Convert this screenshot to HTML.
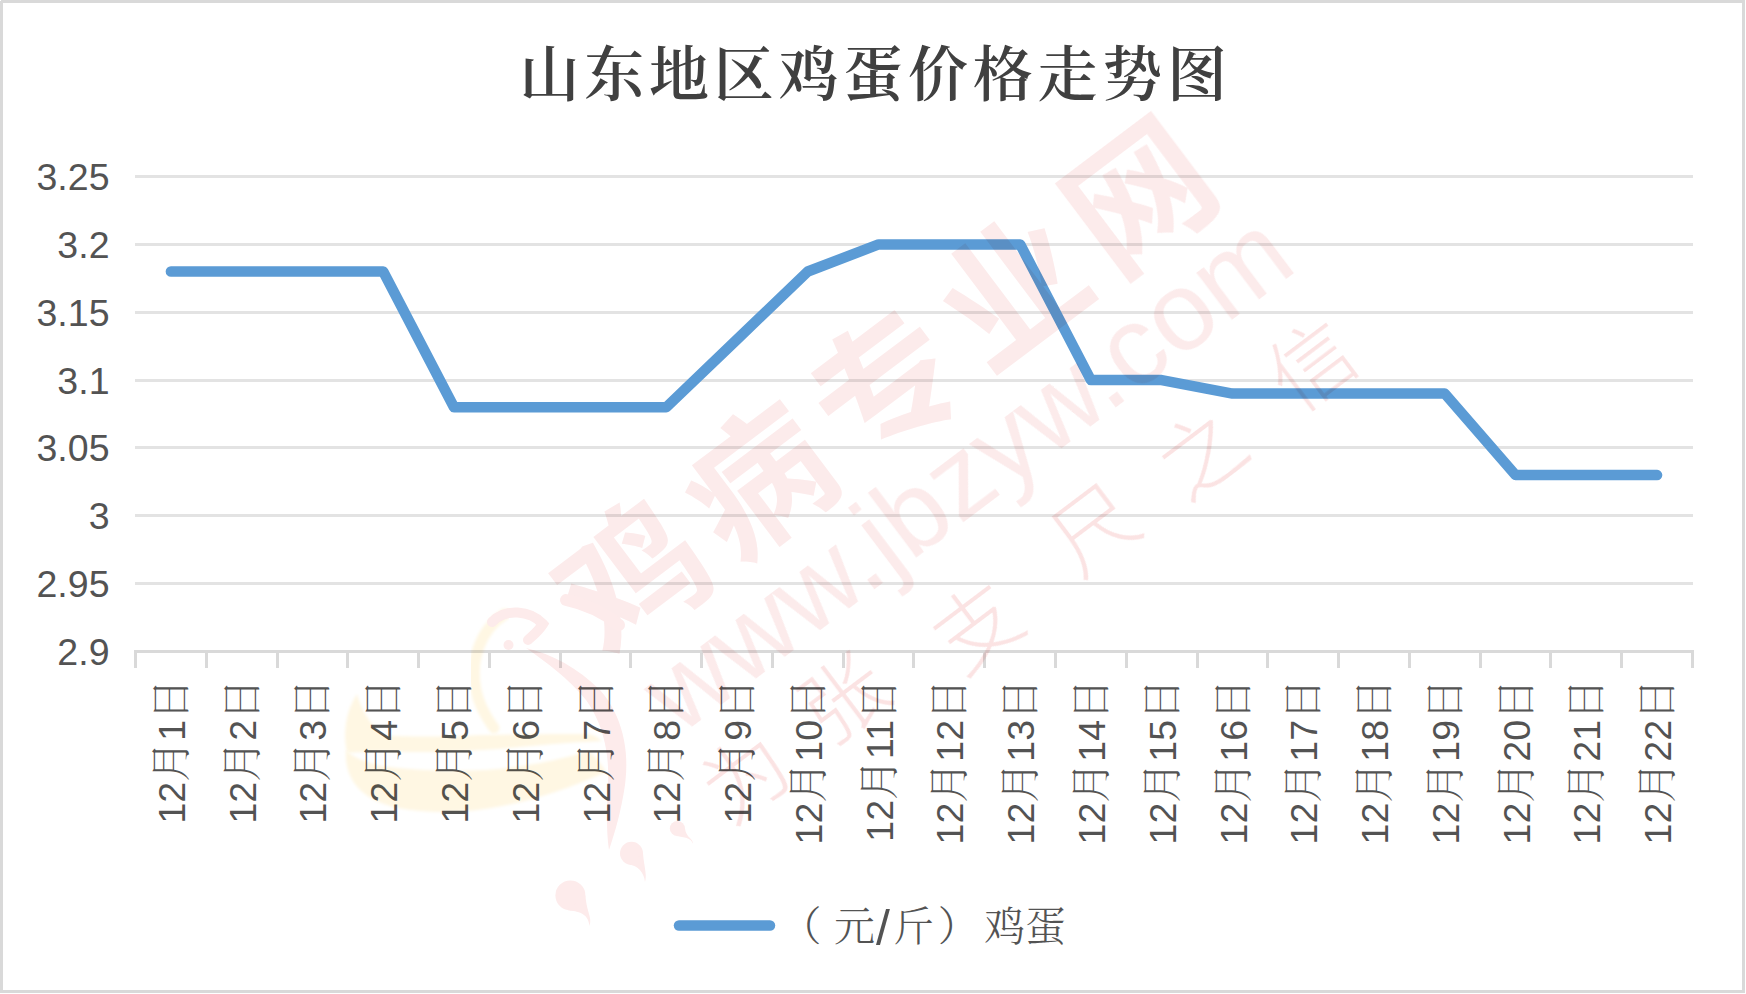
<!DOCTYPE html>
<html lang="zh-CN"><head><meta charset="utf-8"><title>山东地区鸡蛋价格走势图</title>
<style>
html,body{margin:0;padding:0;background:#fff;}
body{width:1746px;height:994px;overflow:hidden;position:relative;}
svg{position:absolute;left:0;top:0;display:block;}
.num{font-family:'Liberation Sans',sans-serif;font-size:37.5px;fill:#535353;}
.cjk{font-family:'Noto Serif CJK SC','Noto Serif CJK JP',serif;font-weight:300;font-size:41px;}
.wm{mix-blend-mode:multiply;}
</style></head><body>
<svg width="1746" height="994" viewBox="0 0 1746 994">
<rect x="1.5" y="1.5" width="1742" height="990" fill="#fff" stroke="#d9d9d9" stroke-width="3"/>
<rect x="0" y="0" width="1" height="1" fill="#fff"/>
<rect x="135" y="175" width="1558" height="3" fill="#e3e3e3"/>
<rect x="135" y="243" width="1558" height="3" fill="#e3e3e3"/>
<rect x="135" y="311" width="1558" height="3" fill="#e3e3e3"/>
<rect x="135" y="379" width="1558" height="3" fill="#e3e3e3"/>
<rect x="135" y="446" width="1558" height="3" fill="#e3e3e3"/>
<rect x="135" y="514" width="1558" height="3" fill="#e3e3e3"/>
<rect x="135" y="582" width="1558" height="3" fill="#e3e3e3"/>
<rect x="134" y="650" width="1560" height="3" fill="#d9d9d9"/>
<rect x="134" y="650" width="3" height="18" fill="#d9d9d9"/>
<rect x="205" y="650" width="3" height="18" fill="#d9d9d9"/>
<rect x="276" y="650" width="3" height="18" fill="#d9d9d9"/>
<rect x="346" y="650" width="3" height="18" fill="#d9d9d9"/>
<rect x="417" y="650" width="3" height="18" fill="#d9d9d9"/>
<rect x="488" y="650" width="3" height="18" fill="#d9d9d9"/>
<rect x="559" y="650" width="3" height="18" fill="#d9d9d9"/>
<rect x="629" y="650" width="3" height="18" fill="#d9d9d9"/>
<rect x="700" y="650" width="3" height="18" fill="#d9d9d9"/>
<rect x="771" y="650" width="3" height="18" fill="#d9d9d9"/>
<rect x="842" y="650" width="3" height="18" fill="#d9d9d9"/>
<rect x="912" y="650" width="3" height="18" fill="#d9d9d9"/>
<rect x="983" y="650" width="3" height="18" fill="#d9d9d9"/>
<rect x="1054" y="650" width="3" height="18" fill="#d9d9d9"/>
<rect x="1125" y="650" width="3" height="18" fill="#d9d9d9"/>
<rect x="1196" y="650" width="3" height="18" fill="#d9d9d9"/>
<rect x="1266" y="650" width="3" height="18" fill="#d9d9d9"/>
<rect x="1337" y="650" width="3" height="18" fill="#d9d9d9"/>
<rect x="1408" y="650" width="3" height="18" fill="#d9d9d9"/>
<rect x="1479" y="650" width="3" height="18" fill="#d9d9d9"/>
<rect x="1549" y="650" width="3" height="18" fill="#d9d9d9"/>
<rect x="1620" y="650" width="3" height="18" fill="#d9d9d9"/>
<rect x="1691" y="650" width="3" height="18" fill="#d9d9d9"/>
<text class="num" x="109.5" y="190.0" text-anchor="end">3.25</text>
<text class="num" x="109.5" y="257.9" text-anchor="end">3.2</text>
<text class="num" x="109.5" y="325.7" text-anchor="end">3.15</text>
<text class="num" x="109.5" y="393.6" text-anchor="end">3.1</text>
<text class="num" x="109.5" y="461.4" text-anchor="end">3.05</text>
<text class="num" x="109.5" y="529.3" text-anchor="end">3</text>
<text class="num" x="109.5" y="597.1" text-anchor="end">2.95</text>
<text class="num" x="109.5" y="665.0" text-anchor="end">2.9</text>
<text class="num" transform="translate(184.9,679) rotate(-90)" text-anchor="end">12<tspan class="cjk">月</tspan>1<tspan class="cjk">日</tspan></text>
<text class="num" transform="translate(255.7,679) rotate(-90)" text-anchor="end">12<tspan class="cjk">月</tspan>2<tspan class="cjk">日</tspan></text>
<text class="num" transform="translate(326.4,679) rotate(-90)" text-anchor="end">12<tspan class="cjk">月</tspan>3<tspan class="cjk">日</tspan></text>
<text class="num" transform="translate(397.2,679) rotate(-90)" text-anchor="end">12<tspan class="cjk">月</tspan>4<tspan class="cjk">日</tspan></text>
<text class="num" transform="translate(468.0,679) rotate(-90)" text-anchor="end">12<tspan class="cjk">月</tspan>5<tspan class="cjk">日</tspan></text>
<text class="num" transform="translate(538.8,679) rotate(-90)" text-anchor="end">12<tspan class="cjk">月</tspan>6<tspan class="cjk">日</tspan></text>
<text class="num" transform="translate(609.5,679) rotate(-90)" text-anchor="end">12<tspan class="cjk">月</tspan>7<tspan class="cjk">日</tspan></text>
<text class="num" transform="translate(680.3,679) rotate(-90)" text-anchor="end">12<tspan class="cjk">月</tspan>8<tspan class="cjk">日</tspan></text>
<text class="num" transform="translate(751.1,679) rotate(-90)" text-anchor="end">12<tspan class="cjk">月</tspan>9<tspan class="cjk">日</tspan></text>
<text class="num" transform="translate(821.8,679) rotate(-90)" text-anchor="end">12<tspan class="cjk">月</tspan>10<tspan class="cjk">日</tspan></text>
<text class="num" transform="translate(892.6,679) rotate(-90)" text-anchor="end">12<tspan class="cjk">月</tspan>11<tspan class="cjk">日</tspan></text>
<text class="num" transform="translate(963.4,679) rotate(-90)" text-anchor="end">12<tspan class="cjk">月</tspan>12<tspan class="cjk">日</tspan></text>
<text class="num" transform="translate(1034.2,679) rotate(-90)" text-anchor="end">12<tspan class="cjk">月</tspan>13<tspan class="cjk">日</tspan></text>
<text class="num" transform="translate(1104.9,679) rotate(-90)" text-anchor="end">12<tspan class="cjk">月</tspan>14<tspan class="cjk">日</tspan></text>
<text class="num" transform="translate(1175.7,679) rotate(-90)" text-anchor="end">12<tspan class="cjk">月</tspan>15<tspan class="cjk">日</tspan></text>
<text class="num" transform="translate(1246.5,679) rotate(-90)" text-anchor="end">12<tspan class="cjk">月</tspan>16<tspan class="cjk">日</tspan></text>
<text class="num" transform="translate(1317.2,679) rotate(-90)" text-anchor="end">12<tspan class="cjk">月</tspan>17<tspan class="cjk">日</tspan></text>
<text class="num" transform="translate(1388.0,679) rotate(-90)" text-anchor="end">12<tspan class="cjk">月</tspan>18<tspan class="cjk">日</tspan></text>
<text class="num" transform="translate(1458.8,679) rotate(-90)" text-anchor="end">12<tspan class="cjk">月</tspan>19<tspan class="cjk">日</tspan></text>
<text class="num" transform="translate(1529.6,679) rotate(-90)" text-anchor="end">12<tspan class="cjk">月</tspan>20<tspan class="cjk">日</tspan></text>
<text class="num" transform="translate(1600.3,679) rotate(-90)" text-anchor="end">12<tspan class="cjk">月</tspan>21<tspan class="cjk">日</tspan></text>
<text class="num" transform="translate(1671.1,679) rotate(-90)" text-anchor="end">12<tspan class="cjk">月</tspan>22<tspan class="cjk">日</tspan></text>
<polyline points="170.9,271.5 241.7,271.5 312.4,271.5 383.2,271.5 454.0,407.2 524.8,407.2 595.5,407.2 666.3,407.2 737.1,339.4 807.8,271.5 878.6,244.4 949.4,244.4 1020.2,244.4 1090.9,380.1 1161.7,380.1 1232.5,393.6 1303.2,393.6 1374.0,393.6 1444.8,393.6 1515.6,475.1 1586.3,475.1 1657.1,475.1" fill="none" stroke="#5b9bd5" stroke-width="10.5" stroke-linecap="round" stroke-linejoin="round"/>
<text x="549.50 614.25 679.00 743.75 808.50 873.25 938.00 1002.75 1067.50 1132.25 1197.00" y="95.5" text-anchor="middle" style="font-family:'Noto Serif CJK SC',serif;font-weight:600;font-size:60.0px;fill:#404040">山东地区鸡蛋价格走势图</text>
<line x1="679" y1="925.5" x2="770" y2="925.5" stroke="#5b9bd5" stroke-width="10.5" stroke-linecap="round"/>
<text x="780.5" y="940.5" class="num"><tspan class="cjk">（</tspan></text>
<text x="834.0" y="940.5" class="num"><tspan class="cjk">元</tspan></text>
<text x="876.0" y="945" class="num" style="font-size:50px">/</text>
<text x="893.0" y="940.5" class="num"><tspan class="cjk">斤</tspan></text>
<text x="937.7" y="940.5" class="num"><tspan class="cjk">）</tspan></text>
<text x="984.3" y="940.5" class="num"><tspan class="cjk">鸡</tspan></text>
<text x="1025.0" y="940.5" class="num"><tspan class="cjk">蛋</tspan></text>
<defs><filter id="soft" x="-10%" y="-10%" width="120%" height="120%"><feGaussianBlur stdDeviation="1.6"/></filter></defs>
<g class="wm">
<text transform="translate(626.5,568.5) rotate(-37.0)" text-anchor="middle" dominant-baseline="central" style="font-family:'Noto Sans CJK SC',sans-serif;font-weight:700;font-size:142px;fill:#fcebeb">鸡</text>
<text transform="translate(753.2,473.4) rotate(-37.0)" text-anchor="middle" dominant-baseline="central" style="font-family:'Noto Sans CJK SC',sans-serif;font-weight:700;font-size:142px;fill:#fcebeb">病</text>
<text transform="translate(880.0,378.2) rotate(-37.0)" text-anchor="middle" dominant-baseline="central" style="font-family:'Noto Sans CJK SC',sans-serif;font-weight:700;font-size:142px;fill:#fcebeb">专</text>
<text transform="translate(1006.8,283.1) rotate(-37.0)" text-anchor="middle" dominant-baseline="central" style="font-family:'Noto Sans CJK SC',sans-serif;font-weight:700;font-size:142px;fill:#fcebeb">业</text>
<text transform="translate(1133.5,188.0) rotate(-37.0)" text-anchor="middle" dominant-baseline="central" style="font-family:'Noto Sans CJK SC',sans-serif;font-weight:700;font-size:142px;fill:#fcebeb">网</text>
<text transform="translate(966.6,472.2) rotate(-37.0)" text-anchor="middle" dominant-baseline="central" style="font-family:'Liberation Sans',sans-serif;font-size:111px;fill:#fcebeb">www.jbzyw.com</text>
<text transform="translate(742.0,772.0) rotate(-37.0)" text-anchor="middle" dominant-baseline="central" style="font-family:'Noto Sans CJK SC',sans-serif;font-weight:300;font-size:84px;fill:#fbe3e3">为</text>
<text transform="translate(840.0,693.0) rotate(-37.0)" text-anchor="middle" dominant-baseline="central" style="font-family:'Noto Sans CJK SC',sans-serif;font-weight:300;font-size:84px;fill:#fbe3e3">张</text>
<text transform="translate(973.0,622.0) rotate(-37.0)" text-anchor="middle" dominant-baseline="central" style="font-family:'Noto Sans CJK SC',sans-serif;font-weight:300;font-size:84px;fill:#fbe3e3">支</text>
<text transform="translate(1090.0,524.0) rotate(-37.0)" text-anchor="middle" dominant-baseline="central" style="font-family:'Noto Sans CJK SC',sans-serif;font-weight:300;font-size:84px;fill:#fbe3e3">尺</text>
<text transform="translate(1198.0,449.0) rotate(-37.0)" text-anchor="middle" dominant-baseline="central" style="font-family:'Noto Sans CJK SC',sans-serif;font-weight:300;font-size:84px;fill:#fbe3e3">之</text>
<text transform="translate(1308.0,360.0) rotate(-37.0)" text-anchor="middle" dominant-baseline="central" style="font-family:'Noto Sans CJK SC',sans-serif;font-weight:300;font-size:84px;fill:#fbe3e3">信</text>
<path d="M357,694 C345,712 343,735 347,753 L381,751 C420,753 470,752 520,747 C552,744 578,742 602,741 C596,736 592,734 586,734 C560,734 525,734 484,735 C440,737 405,737 383,735 C371,725 362,712 357,694 Z" fill="#fff7e3" filter="url(#soft)"/>
<path d="M346,750 C344,778 360,800 398,808 C430,814 470,813 502,806 C535,800 570,788 606,772 C600,762 594,755 588,751 C560,760 520,768 485,770 C450,772 410,770 381,766 C365,762 352,757 346,750 Z" fill="#fff7e3" filter="url(#soft)"/>
<path d="M505,614 C480,630 470,660 476,690 C480,710 490,722 494,728" fill="none" stroke="#fff7e3" stroke-width="11" stroke-linecap="round" filter="url(#soft)"/>
<path d="M492,622 C505,608 530,610 543,624 C538,632 532,636 528,640" fill="none" stroke="#fdebeb" stroke-width="10" stroke-linecap="round"/>
<circle cx="508.5" cy="645" r="5" fill="#fdebeb"/>
<path d="M526,648 C552,654 578,668 600,690 C622,715 630,750 625,785 C621,812 615,832 609,850 C606,830 607,806 608,785 C610,752 602,722 586,700 C568,678 546,662 526,648 Z" fill="#fdebeb"/>
<path d="M566,600 C585,604 603,612 619,625" fill="none" stroke="#fdebeb" stroke-width="12" stroke-linecap="round"/>
<circle cx="631.5" cy="853.3" r="11.5" fill="#fdebeb"/>
<path d="M643.0,853.3 C644.1,867.1 647.3,875.1 645.0,882.0 C643.9,871.6 637.2,865.9 629.2,864.6 Z" fill="#fdebeb"/>
<circle cx="570.4" cy="895.4" r="15.0" fill="#fdebeb"/>
<path d="M585.4,895.4 C586.9,913.4 592.5,917.0 589.5,926.0 C588.0,912.5 577.9,911.9 567.4,910.1 Z" fill="#fdebeb"/>
<circle cx="677.4" cy="828.5" r="7.6" fill="#fdebeb"/>
<path d="M685.0,828.5 C685.8,837.6 694.2,839.2 692.7,843.8 C691.9,837.0 681.2,836.9 675.9,835.9 Z" fill="#fdebeb"/>
</g>
</svg>
</body></html>
